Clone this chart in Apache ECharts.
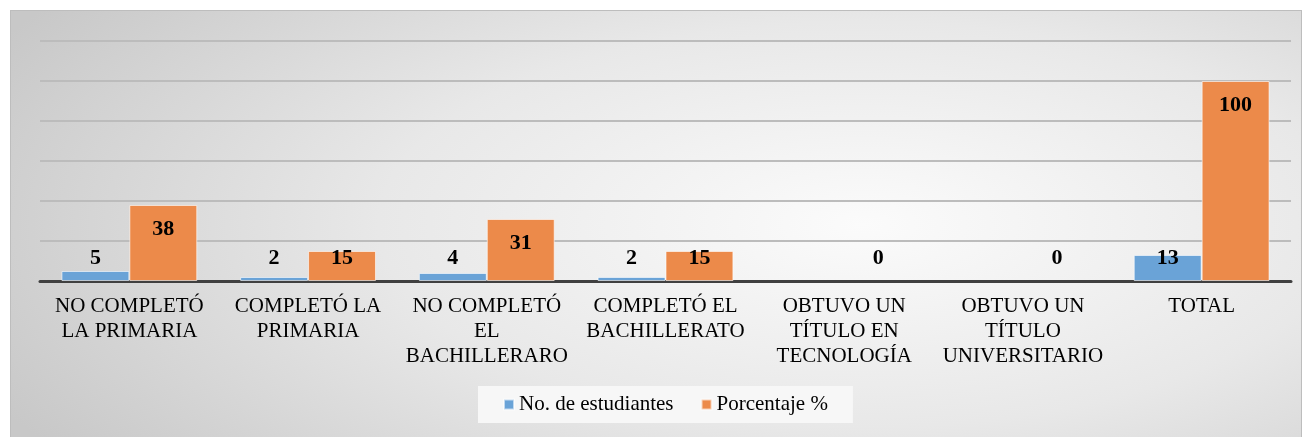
<!DOCTYPE html>
<html>
<head>
<meta charset="utf-8">
<script src="https://cdn.jsdelivr.net/npm/echarts@6/dist/echarts.min.js"></script>
<style>
	body { margin: 0; background: #fff; }
	#panel {
		position: absolute; left: 10px; top: 10px; width: 1290px; height: 427px;
		border: 1px solid #bdbdbd; border-bottom: none;
		background: radial-gradient(ellipse 75% 95% at 66% 50%, #fbfbfb 0%, #e8e8e8 50%, #c8c8c8 100%);
	}
	#chart { position: absolute; left: 0; top: 0; width: 1311px; height: 437px; }
</style>
</head>
<body>
<div id="panel"></div>
<div id="chart"></div>
<script>
var categories = [
	'NO COMPLETÓ\nLA PRIMARIA',
	'COMPLETÓ LA\nPRIMARIA',
	'NO COMPLETÓ\nEL\nBACHILLERARO',
	'COMPLETÓ EL\nBACHILLERATO',
	'OBTUVO UN\nTÍTULO EN\nTECNOLOGÍA',
	'OBTUVO UN\nTÍTULO\nUNIVERSITARIO',
	'TOTAL'
];
var estudiantes = [5, 2, 4, 2, 0, 0, 13];
var porcentaje = [38, 15, 31, 15, 0, 0, 100];

var serif = "'Liberation Serif', 'Times New Roman', serif";
var labelFont = { fontFamily: serif, fontSize: 22, fontWeight: 'bold', color: '#000' };

// Excel "inside end": short bars push the label up to a fixed spot
function withLabels(values, hideZero) {
	return values.map(function (v) {
		var tall = v >= 24;
		return {
			value: v,
			itemStyle: v === 0 ? { borderWidth: 0 } : undefined,
			label: {
				show: !(hideZero && v === 0),
				position: tall ? 'insideTop' : 'insideBottom',
				distance: tall ? 13 : 12
			}
		};
	});
}

var chart = echarts.init(document.getElementById('chart'));

chart.setOption({
	backgroundColor: 'transparent',
	animation: false,
	grid: { left: 40, right: 20, top: 41, bottom: 156 },
	legend: {
		top: 386,
		left: 478,
		backgroundColor: '#f7f7f7',
		padding: [8, 25],
		itemWidth: 10,
		itemHeight: 10,
		itemGap: 27,
		icon: 'rect',
		textStyle: { fontFamily: serif, fontSize: 21, color: '#000' },
		data: ['No. de estudiantes', 'Porcentaje %']
	},
	xAxis: {
		type: 'category',
		data: categories,
		axisTick: { show: false },
		axisLine: { lineStyle: { color: '#404040', width: 3 } },
		axisLabel: {
			interval: 0,
			margin: 13,
			lineHeight: 25,
			fontFamily: serif,
			fontSize: 21,
			color: '#000',
			align: 'center'
		}
	},
	yAxis: {
		type: 'value',
		min: 0,
		max: 120,
		interval: 20,
		axisLabel: { show: false },
		axisLine: { show: false },
		axisTick: { show: false },
		splitLine: { lineStyle: { color: '#bcbcbc', width: 2 } }
	},
	series: [
		{
			name: 'No. de estudiantes',
			type: 'bar',
			barGap: '0%',
			barCategoryGap: '24%',
			itemStyle: { color: '#6aa3d7', borderColor: 'rgba(255,255,255,0.6)', borderWidth: 1 },
			label: labelFont,
			data: withLabels(estudiantes, true)
		},
		{
			name: 'Porcentaje %',
			type: 'bar',
			itemStyle: { color: '#ec8a4a', borderColor: 'rgba(255,255,255,0.6)', borderWidth: 1 },
			label: labelFont,
			data: withLabels(porcentaje, false)
		}
	]
});
</script>
</body>
</html>
